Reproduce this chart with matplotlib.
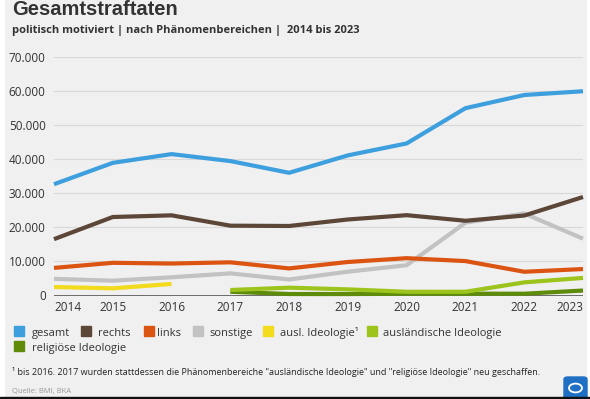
import matplotlib.pyplot as plt
from matplotlib.patches import Rectangle, FancyBboxPatch, Circle

plt.rcParams['font.family'] = ['Open Sans', 'DejaVu Sans']

years = [2014, 2015, 2016, 2017, 2018, 2019, 2020, 2021, 2022, 2023]
gesamt = [32700, 38981, 41549, 39505, 36062, 41177, 44692, 55048, 58916, 60028]
rechts = [16559, 23066, 23555, 20520, 20431, 22342, 23604, 21964, 23493, 28945]
links = [8113, 9605, 9389, 9752, 7961, 9849, 10971, 10113, 6976, 7777]
sonstige = [4900, 4350, 5350, 6500, 4700, 7000, 8900, 21400, 24100, 16700]
ausl_years = [2014, 2015, 2016]
ausl = [2500, 2100, 3400]
new_years = [2017, 2018, 2019, 2020, 2021, 2022, 2023]
auslaendisch = [1617, 2300, 1800, 1100, 1100, 3858, 5170]
religioes = [1102, 435, 425, 506, 523, 520, 1458]

labels = ["gesamt", "rechts", "links", "sonstige", "ausl. Ideologie\u00b9",
          "ausländische Ideologie", "religiöse Ideologie"]
colors = ["#3d9fdd", "#5b4637", "#dc5412", "#c2c2c2", "#f2da1c", "#9cc41d", "#5e8c0a"]
yticks = [0, 10000, 20000, 30000, 40000, 50000, 60000, 70000]

W, H = 590, 399
fig = plt.figure(figsize=(W / 100, H / 100), dpi=100)
fig.patch.set_facecolor("#f0f0f0")

def px(x, y):
    return x / W, 1 - y / H

ax = fig.add_axes([54 / W, 1 - 295.5 / H, (583 - 54) / W, (295.5 - 57.3) / H])
ax.set_facecolor("#f0f0f0")
ax.set_xlim(2014, 2023)
ax.set_ylim(0, 70000)

lw = 3.0
series = [(years, gesamt), (years, rechts), (years, links), (years, sonstige),
          (ausl_years, ausl), (new_years, auslaendisch), (new_years, religioes)]
for i in [6, 5, 4, 3, 2, 1, 0]:
    xs, ys = series[i]
    ax.plot(xs, ys, color=colors[i], lw=lw, solid_capstyle="butt", clip_on=False, zorder=3 + (6 - i))

for s in ax.spines.values():
    s.set_visible(False)
ax.axhline(0, color="#555555", lw=1.2, zorder=2)
ax.set_yticks(yticks)
ax.set_yticklabels(["0" if v == 0 else f"{v:,}".replace(",", ".") for v in yticks])
ax.grid(axis="y", color="#d8d8d8", lw=0.8)
ax.tick_params(axis="y", length=0, pad=6, labelsize=8.5, labelcolor="#333333")
ax.set_xticks(years)
ax.set_xticklabels([str(y) for y in years])
ax.tick_params(axis="x", length=0, pad=4, labelsize=8.5, labelcolor="#333333")
xl = ax.get_xticklabels()
xl[0].set_ha("left")
xl[-1].set_ha("right")

# titles
fig.text(*px(12, 15), "Gesamtstraftaten", fontsize=14.5, fontweight="bold",
         color="#333333", family="Liberation Sans")
fig.text(*px(12, 31), "politisch motiviert | nach Phänomenbereichen |  2014 bis 2023",
         fontsize=8.0, fontweight="bold", color="#333333", va="center")

# legend
sq_x = [14, 81, 144, 193, 263, 367]
tx_x = [32, 98, 157, 209, 280, 383]
for i, lab in enumerate(labels):
    if i < 6:
        x0, x1, yb = sq_x[i], tx_x[i], 336
    else:
        x0, x1, yb = 14, 32, 351
    fig.patches.append(Rectangle(px(x0, yb), 10 / W, 10 / H, color=colors[i],
                                 transform=fig.transFigure, figure=fig))
    fig.text(*px(x1, yb), lab, fontsize=8.0, color="#333333", va="baseline")

fig.text(*px(12, 372), "\u00b9 bis 2016. 2017 wurden stattdessen die Phänomenbereiche "
         "\"ausländische Ideologie\" und \"religiöse Ideologie\" neu geschaffen.",
         fontsize=6.5, color="#222222", va="center")
fig.text(*px(12, 391), "Quelle: BMI, BKA", fontsize=5.5, color="#999999", va="center")

# side strips and bottom bar
fig.patches.append(Rectangle((0, 0), 4 / W, 1, color="white", transform=fig.transFigure, figure=fig))
fig.patches.append(Rectangle((587 / W, 0), 3 / W, 1, color="white", transform=fig.transFigure, figure=fig))
fig.patches.append(Rectangle((0, 0), 1, 2.5 / H, color="#111111", transform=fig.transFigure, figure=fig, zorder=5))

# logo
fig.patches.append(FancyBboxPatch(px(564, 399), 23 / W, 22 / H, boxstyle="round,pad=0,rounding_size=0.006",
                                  color="#1f6fc5", transform=fig.transFigure, figure=fig))
fig.patches.append(Circle(px(575.5, 388), 6.5 / W, fill=False, ec="white", lw=1.3,
                          transform=fig.transFigure, figure=fig))

fig.savefig("out.png", dpi=100, facecolor=fig.get_facecolor())
